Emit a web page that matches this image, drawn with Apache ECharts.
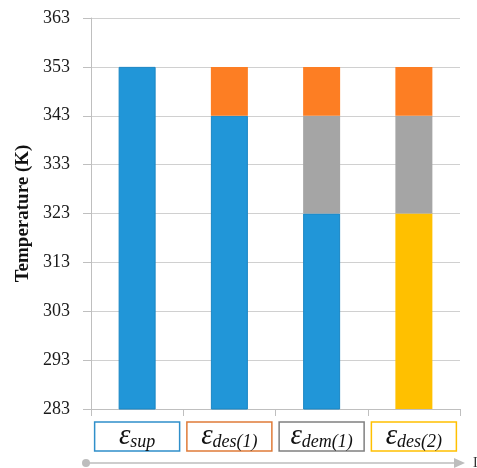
<!DOCTYPE html>
<html>
<head>
<meta charset="utf-8">
<script src="https://cdn.jsdelivr.net/npm/echarts@6/dist/echarts.min.js"></script>
<style>
  html, body { margin: 0; padding: 0; background: #ffffff; }
  #chart { width: 477px; height: 468px; }
</style>
</head>
<body>
<div id="chart"></div>
<script>
// Energy stages shown on the category axis (subscript of ε)
const stages = ['sup', 'des(1)', 'dem(1)', 'des(2)'];
const stageBorder = ['#2f8fca', '#e07b39', '#808080', '#ffc000'];

// Temperature levels (K) reached by each stacked segment
const baseTemp = [353, 343, 323, 323];          // lowest segment top
const baseColor = ['#2196d8', '#2196d8', '#2196d8', '#ffc000'];
const demSpan = [null, null, 20, 20];          // grey segment height
const desSpan = [null, 10, 10, 10];            // orange segment height

// Temperature axis ticks
const yMin = 283, yMax = 363, yStep = 10;

const chart = echarts.init(document.getElementById('chart'));
const serif = '"Liberation Serif", "DejaVu Serif", serif';

chart.setOption({
  animation: false,
  backgroundColor: '#ffffff',
  grid: { left: 91, right: 17, top: 18, bottom: 59 },
  xAxis: {
    type: 'category',
    data: stages.map((s, i) => ({
      value: s,
      textStyle: { borderColor: stageBorder[i] }
    })),
    axisLine: { lineStyle: { color: '#bfbfbf', width: 1 } },
    axisTick: { show: true, length: 7, lineStyle: { color: '#bfbfbf' } },
    axisLabel: {
      margin: 13,
      interval: 0,
      width: 83,
      height: 27,
      borderWidth: 1.5,
      padding: [2, 1, 0, 1],
      align: 'center',
      formatter: v => '{e|ε}{s|' + v + '}',
      rich: {
        e: { fontFamily: serif, fontStyle: 'italic', fontSize: 29, color: '#111', verticalAlign: 'bottom', lineHeight: 27 },
        s: { fontFamily: serif, fontStyle: 'italic', fontSize: 18, color: '#111', verticalAlign: 'bottom', lineHeight: 20, padding: [8, 0, 0, 0] }
      }
    }
  },
  yAxis: {
    type: 'value',
    min: yMin,
    max: yMax,
    interval: yStep,
    name: 'Temperature (K)',
    nameLocation: 'middle',
    nameGap: 55,
    nameRotate: 90,
    nameTextStyle: { fontFamily: serif, fontWeight: 'bold', fontSize: 19, color: '#111' },
    axisLine: { show: true, lineStyle: { color: '#bfbfbf', width: 1 } },
    axisTick: { show: true, length: 8, lineStyle: { color: '#bfbfbf' } },
    axisLabel: { fontFamily: serif, fontSize: 18, color: '#1a1a1a', margin: 21 },
    splitLine: { lineStyle: { color: '#d0d0d0', width: 1 } }
  },
  series: [
    {
      type: 'bar',
      stack: 'T',
      barWidth: 37,
      data: baseTemp.map((v, i) => ({
        value: v,
        itemStyle: {
          color: baseColor[i],
          borderColor: i < 3 ? '#1a86c4' : baseColor[i],
          borderWidth: i < 3 ? 1 : 0
        }
      }))
    },
    {
      type: 'bar',
      stack: 'T',
      barWidth: 37,
      itemStyle: { color: '#a5a5a5' },
      data: demSpan
    },
    {
      type: 'bar',
      stack: 'T',
      barWidth: 37,
      itemStyle: { color: '#fd7e23' },
      data: desSpan
    }
  ],
  graphic: [
    {
      type: 'line',
      shape: { x1: 86, y1: 463, x2: 456, y2: 463 },
      style: { stroke: '#bdbdbd', lineWidth: 1.5 }
    },
    {
      type: 'circle',
      shape: { cx: 86, cy: 463, r: 4 },
      style: { fill: '#bdbdbd' }
    },
    {
      type: 'polygon',
      shape: { points: [[454, 458], [465, 463], [454, 468]] },
      style: { fill: '#bdbdbd' }
    },
    {
      type: 'text',
      style: { x: 473, y: 456, text: 'I', fontFamily: serif, fontSize: 14, fill: '#333' }
    }
  ]
});
</script>
</body>
</html>
